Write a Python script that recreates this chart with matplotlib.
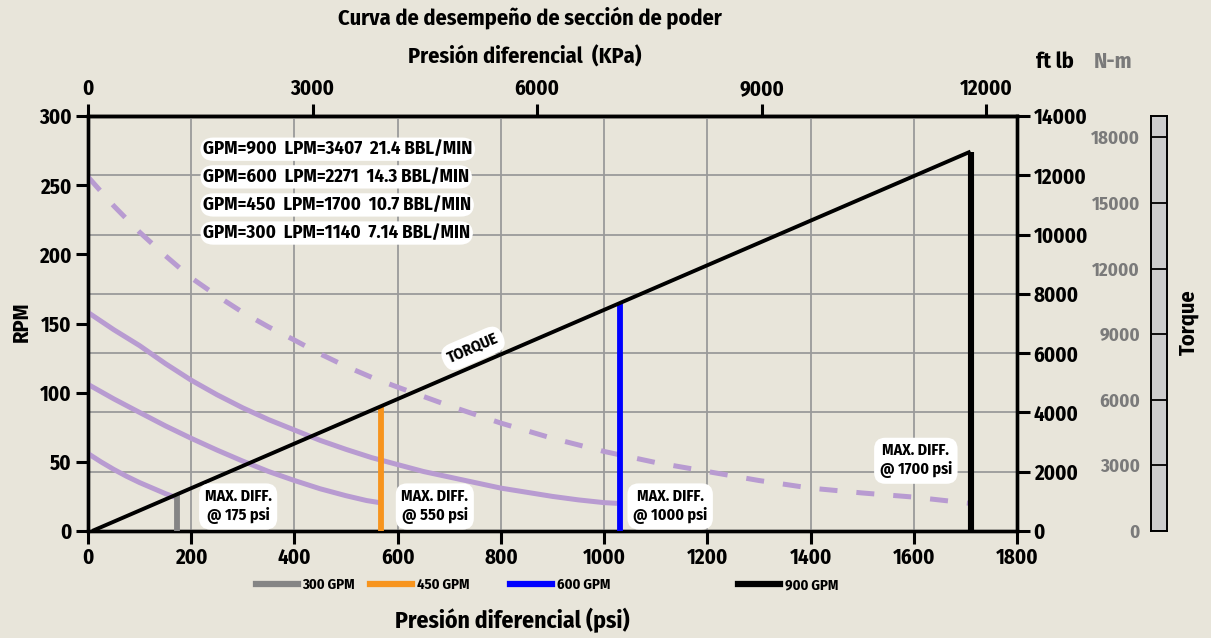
import numpy as np
import matplotlib
matplotlib.use("Agg")
import matplotlib.pyplot as plt
import matplotlib.font_manager as fm
from matplotlib.lines import Line2D

_names = {f.name for f in fm.fontManager.ttflist}
_cands = ['Fira Sans Condensed', 'PT Sans Narrow', 'Asap Condensed',
          'Barlow Semi Condensed', 'Liberation Sans Narrow']
FONT = next((c for c in _cands if c in _names), 'DejaVu Sans')
plt.rcParams['font.family'] = [FONT, 'DejaVu Sans']
plt.rcParams['font.weight'] = 'bold'

# ---------------- data ----------------
psi_300 = [0, 25, 50, 75, 100, 125, 150, 168]
rpm_300 = [56, 50, 44.5, 39.5, 35, 31, 27, 24.5]

psi_450 = [0, 50, 100, 150, 200, 250, 300, 350, 400, 450, 500, 540, 565]
rpm_450 = [106, 95.5, 85.7, 76, 67, 58.5, 50.5, 43, 36.5, 30.5, 25.5, 22, 20.5]

psi_600 = [0, 50, 100, 150, 200, 250, 300, 350, 400, 450, 500, 550, 600, 650,
           700, 750, 800, 850, 900, 950, 1000, 1025]
rpm_600 = [158, 145.5, 134, 121, 109, 98.5, 89, 80.5, 73, 65.5, 59, 53, 48, 43,
           39, 35, 31, 28, 25, 22.5, 20.5, 20]

psi_900 = [0, 50, 100, 150, 200, 250, 300, 350, 400, 450, 500, 550, 600, 700,
           800, 900, 1000, 1100, 1200, 1300, 1400, 1500, 1600, 1709]
rpm_900 = [256, 235, 216, 199, 183, 170, 158, 147.5, 138, 128, 119, 111, 104,
           90.5, 78, 67, 57.5, 49.5, 43, 36.5, 31, 27.5, 24.5, 20]

torque_psi = [8, 1710]
torque_ftlb = [0, 12800]

maxdiff_psi = [173, 568, 1031, 1710]
maxdiff_names = ["300 GPM", "450 GPM", "600 GPM", "900 GPM"]
maxdiff_colors = ["#858585", "#f7941d", "#0000ff", "#000000"]
maxdiff_labels = ["MAX. DIFF.\n@ 175 psi", "MAX. DIFF.\n@ 550 psi",
                  "MAX. DIFF.\n@ 1000 psi", "MAX. DIFF.\n@ 1700 psi"]

flow_labels = ["GPM=900  LPM=3407  21.4 BBL/MIN",
               "GPM=600  LPM=2271  14.3 BBL/MIN",
               "GPM=450  LPM=1700  10.7 BBL/MIN",
               "GPM=300  LPM=1140  7.14 BBL/MIN"]

psi_ticks = list(range(0, 1801, 200))
rpm_ticks = list(range(0, 301, 50))
kpa_ticks = [0, 3000, 6000, 9000, 12000]
ftlb_ticks = list(range(0, 14001, 2000))
nm_ticks = list(range(0, 18001, 3000))

PSI_TO_KPA = 6.894757
FTLB_TO_NM = 1.355818

# ---------------- style ----------------
bg = "#e8e5da"
purple = "#b89bd1"
grid_c = "#9a9a9a"

W, H = 1211, 638
fig = plt.figure(figsize=(W / 100, H / 100), dpi=100, facecolor=bg)

def fx(px):
    return px / W

def fy(py):
    return 1 - py / H

x0, x1, ytop, ybot = 88, 1017, 116, 531
ax = fig.add_axes([fx(x0), fy(ybot), fx(x1 - x0), (ybot - ytop) / H])
ax2 = ax.twinx()
ax.set_zorder(3)
ax2.set_zorder(1)
ax.patch.set_visible(False)
ax2.patch.set_facecolor(bg)

ax.set_xlim(0, 1800)
ax.set_ylim(0, 300)
ax2.set_ylim(0, 14000)

TS = 15
tick_kw = dict(length=9, width=2.2, labelsize=TS, color='black')
ax.set_xticks(psi_ticks)
ax.set_yticks(rpm_ticks)
ax.tick_params(axis='both', direction='out', pad=3, **tick_kw)
ax2.set_yticks(ftlb_ticks)
ax2.tick_params(axis='y', direction='out', pad=3, **tick_kw)

for a in (ax, ax2):
    for s in a.spines.values():
        s.set_linewidth(2.4)
        s.set_color('black')

ax.set_axisbelow(True)
ax.grid(axis='x', color=grid_c, lw=1.3)
ax2.grid(axis='y', color=grid_c, lw=1.3)

# top KPa axis
sec = ax.secondary_xaxis('top', functions=(lambda p: p * PSI_TO_KPA,
                                           lambda k: k / PSI_TO_KPA))
sec.set_xticks(kpa_ticks)
sec.tick_params(direction='out', pad=3, **tick_kw)
sec.spines['top'].set_linewidth(2.4)

# RPM curves
ax.plot(psi_300, rpm_300, color=purple, lw=3.6, solid_capstyle='butt', zorder=2)
ax.plot(psi_450, rpm_450, color=purple, lw=3.6, solid_capstyle='butt', zorder=2)
ax.plot(psi_600, rpm_600, color=purple, lw=3.6, solid_capstyle='butt', zorder=2)
ax.plot(psi_900, rpm_900, color=purple, lw=3.6, dashes=(3.6, 3.8),
        dash_capstyle='butt', zorder=2)

# torque line and max diff lines (torque units)
ax.plot(torque_psi, torque_ftlb, color='black', lw=2.8, transform=ax2.transData,
        zorder=4, solid_capstyle='butt')
for p, c in zip(maxdiff_psi, maxdiff_colors):
    top = np.interp(p, torque_psi, torque_ftlb)
    ax.plot([p, p], [0, top], color=c, lw=4.2 if c != "#000000" else 4.4,
            transform=ax2.transData, zorder=3, solid_capstyle='butt')

LS = 11.5
box = dict(boxstyle='round,pad=0.35,rounding_size=0.7', fc='white', ec='none')
label_pos = [(291, 18), (672, 18), (1128, 18), (1604, 51)]
for (px, py), t in zip(label_pos, maxdiff_labels):
    ax.text(px, py, t, ha='center', va='center', fontsize=LS,
            fontweight='bold', linespacing=1.2, bbox=box, zorder=6)

flow_y = [276, 256, 235.7, 215.4]
for yv, t in zip(flow_y, flow_labels):
    ax.text(223, yv, t, ha='left', va='center', fontsize=13.5, fontweight='bold',
            bbox=dict(boxstyle='round,pad=0.15,rounding_size=0.7', fc='white', ec='none'),
            zorder=6)

ax.text(746, 132, "TORQUE", ha='center', va='center', fontsize=LS, rotation=23.3,
        fontweight='bold',
        bbox=dict(boxstyle='round,pad=0.35,rounding_size=0.8', fc='white', ec='none'),
        zorder=6)

# N-m bar axis
nm = fig.add_axes([fx(1151), fy(531), fx(16), (531 - 116) / H])
nm.set_facecolor('#cdcdcd')
nm.set_xlim(0, 1)
nm.set_ylim(0, 14000 * FTLB_TO_NM)
nm.set_xticks([])
nm.set_yticks(nm_ticks)
nm.tick_params(axis='y', length=0, pad=8, labelsize=13.5, labelcolor='#7a7a7a')
nm.grid(axis='y', color='black', lw=1.3)
for s in nm.spines.values():
    s.set_linewidth(1.4)

# texts
fig.text(fx(530), fy(18), "Curva de desempeño de sección de poder", ha='center',
         va='center', fontsize=16, fontweight='bold')
fig.text(fx(525), fy(57), "Presión diferencial  (KPa)", ha='center', va='center',
         fontsize=16, fontweight='bold')
fig.text(fx(1055), fy(62), "ft lb", ha='center', va='center', fontsize=16,
         fontweight='bold')
fig.text(fx(1113), fy(62), "N-m", ha='center', va='center', fontsize=16,
         fontweight='bold', color='#7a7a7a')
fig.text(fx(22), fy(322), "RPM", ha='center', va='center', rotation=90,
         fontsize=16, fontweight='bold')
fig.text(fx(1188), fy(322), "Torque", ha='center', va='center', rotation=90,
         fontsize=16, fontweight='bold')
fig.text(fx(512), fy(620), "Presión diferencial (psi)", ha='center', va='center',
         fontsize=17, fontweight='bold')

# legend entries
leg_x = [258, 372, 512, 740]
for lx, name, c in zip(leg_x, maxdiff_names, maxdiff_colors):
    fig.legend([Line2D([0], [0], color=c, lw=4.5)], [name],
               loc='center left', bbox_to_anchor=(fx(lx - 5), fy(585)),
               frameon=False, handlelength=2.9,
               handletextpad=0.3, borderaxespad=0, borderpad=0.2,
               prop={'weight': 'bold', 'size': 10.5})

fig.savefig("out.png", dpi=100, facecolor=bg)
